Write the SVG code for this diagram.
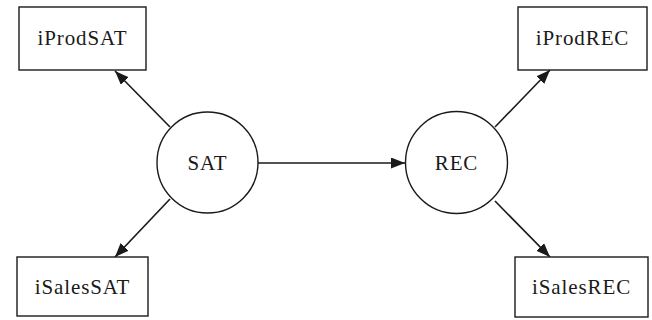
<svg xmlns="http://www.w3.org/2000/svg" width="652" height="320" viewBox="0 0 652 320">
  <style>
    .box { fill: #ffffff; stroke: #1a1a1a; stroke-width: 1.4; }
    .node-circle { fill: #ffffff; stroke: #1a1a1a; stroke-width: 1.4; }
    .label { font-family: "Liberation Serif", "Times New Roman", serif; font-size: 21px; fill: #1a1a1a; text-anchor: middle; letter-spacing: 0.9px; }
    .edge { stroke: #1a1a1a; stroke-width: 1.6; fill: none; marker-end: url(#arrow); }
  </style>
  <defs>
    <marker id="arrow" markerUnits="userSpaceOnUse" markerWidth="16" markerHeight="12" refX="14" refY="5.5" orient="auto">
      <path d="M0,0 L14,5.5 L0,11 Z" fill="#1a1a1a"/>
    </marker>
  </defs>
  <rect width="652" height="320" fill="#ffffff"/>

  <g id="edges">
    <line class="edge" x1="258" y1="163" x2="405" y2="163"/>
    <line class="edge" x1="170" y1="127" x2="115" y2="71"/>
    <line class="edge" x1="170" y1="199" x2="115" y2="257"/>
    <line class="edge" x1="495" y1="127" x2="550" y2="70"/>
    <line class="edge" x1="495" y1="201" x2="550" y2="257"/>
  </g>

  <g id="SAT">
    <circle class="node-circle" cx="207.5" cy="162.5" r="50.5"/>
    <text class="label" x="207.5" y="170">SAT</text>
  </g>
  <g id="REC">
    <circle class="node-circle" cx="456.5" cy="162.5" r="51"/>
    <text class="label" x="456.5" y="170">REC</text>
  </g>
  <g id="iProdSAT">
    <rect class="box" x="19" y="7" width="127" height="63"/>
    <text class="label" x="82.5" y="45">iProdSAT</text>
  </g>
  <g id="iSalesSAT">
    <rect class="box" x="17" y="257" width="131" height="59"/>
    <text class="label" x="82.5" y="294">iSalesSAT</text>
  </g>
  <g id="iProdREC">
    <rect class="box" x="518" y="7" width="129" height="63"/>
    <text class="label" x="582.5" y="45">iProdREC</text>
  </g>
  <g id="iSalesREC">
    <rect class="box" x="515" y="257" width="133" height="60"/>
    <text class="label" x="581.5" y="294">iSalesREC</text>
  </g>
</svg>
